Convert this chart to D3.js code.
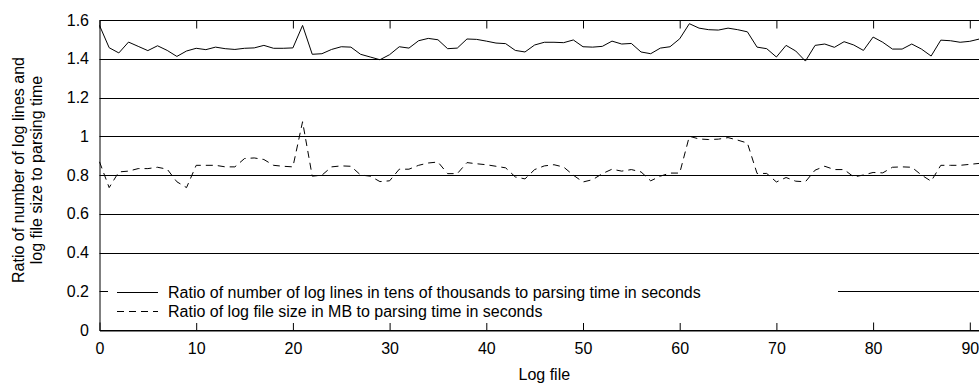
<!DOCTYPE html>
<html>
<head>
<meta charset="utf-8">
<script src="https://cdn.jsdelivr.net/npm/d3@7"></script>
<style>
  body { margin: 0; background: #fff; }
  svg { display: block; font-family: "Liberation Sans", Arial, sans-serif; }
</style>
</head>
<body>
<svg id="chart" width="979" height="383"></svg>
<script>
// values, one per log file (0..91)
const linesRatio = [
  1.572, 1.457, 1.430, 1.486, 1.464, 1.442, 1.467, 1.443, 1.412, 1.440,
  1.454, 1.447, 1.460, 1.452, 1.448, 1.454, 1.456, 1.469, 1.454, 1.454,
  1.456, 1.572, 1.423, 1.426, 1.448, 1.462, 1.460, 1.423, 1.409, 1.395,
  1.421, 1.462, 1.455, 1.493, 1.505, 1.498, 1.452, 1.455, 1.502, 1.500,
  1.491, 1.481, 1.478, 1.443, 1.435, 1.471, 1.485, 1.485, 1.483, 1.497,
  1.462, 1.460, 1.464, 1.491, 1.476, 1.479, 1.435, 1.426, 1.455, 1.462,
  1.503, 1.581, 1.558, 1.550, 1.548, 1.558, 1.550, 1.539, 1.460, 1.452,
  1.409, 1.469, 1.440, 1.388, 1.469, 1.476, 1.459, 1.488, 1.471, 1.443,
  1.512, 1.485, 1.450, 1.450, 1.476, 1.450, 1.414, 1.496, 1.493, 1.485,
  1.490, 1.502
];
const sizeRatio = [
  0.868, 0.735, 0.816, 0.820, 0.833, 0.833, 0.840, 0.830, 0.765, 0.735,
  0.850, 0.850, 0.850, 0.842, 0.842, 0.885, 0.888, 0.880, 0.850, 0.845,
  0.842, 1.075, 0.794, 0.799, 0.842, 0.847, 0.845, 0.800, 0.794, 0.766,
  0.770, 0.830, 0.830, 0.850, 0.862, 0.867, 0.807, 0.807, 0.864, 0.858,
  0.853, 0.845, 0.837, 0.790, 0.780, 0.828, 0.847, 0.853, 0.841, 0.799,
  0.764, 0.776, 0.807, 0.830, 0.820, 0.828, 0.816, 0.770, 0.794, 0.810,
  0.810, 1.000, 0.986, 0.983, 0.985, 0.993, 0.980, 0.965, 0.808, 0.808,
  0.764, 0.787, 0.768, 0.765, 0.825, 0.845, 0.828, 0.828, 0.790, 0.800,
  0.813, 0.811, 0.840, 0.842, 0.840, 0.800, 0.768, 0.850, 0.850, 0.850,
  0.855, 0.860
];
const seriesNames = [
  "Ratio of number of log lines in tens of thousands to parsing time in seconds",
  "Ratio of log file size in MB to parsing time in seconds"
];
const yTicks = [0, 0.2, 0.4, 0.6, 0.8, 1, 1.2, 1.4, 1.6];
const xTicks = [0, 10, 20, 30, 40, 50, 60, 70, 80, 90];
const yTitle = ["Ratio of number of log lines and", "log file size to parsing time"];
const xTitle = "Log file";

const svg = d3.select("#chart");
const plotLeft = 99.5, plotTop = 20, plotBottom = 330;
const unit = 9.67;   // px per log file
const fontSize = 16;

const x = d3.scaleLinear().domain([0, 92]).range([plotLeft, plotLeft + 92 * unit]);
const y = d3.scaleLinear().domain([0, 1.6]).range([plotBottom, plotTop]);
const plotRight = x(92);

// grid lines at each y tick
svg.append("g")
  .selectAll("line")
  .data(yTicks)
  .join("line")
  .attr("x1", plotLeft).attr("x2", plotRight)
  .attr("y1", d => Math.round(y(d)) + 0.5).attr("y2", d => Math.round(y(d)) + 0.5)
  .attr("stroke", "#000").attr("stroke-width", 1);

// left axis
svg.append("g")
  .attr("transform", "translate(" + plotLeft + ",0)")
  .call(d3.axisLeft(y).tickValues(yTicks).tickFormat(d3.format("~g")).tickSize(0).tickPadding(10.5))
  .call(g => g.select(".domain").attr("stroke", "#000"))
  .selectAll("text")
  .attr("font-size", fontSize).attr("fill", "#000").attr("font-family", "Liberation Sans, Arial, sans-serif");

// bottom axis, ticks pointing up into the plot
svg.append("g")
  .attr("transform", "translate(0," + (plotBottom + 0.5) + ")")
  .call(d3.axisBottom(x).tickValues(xTicks).tickSize(-8).tickPadding(12).tickSizeOuter(0))
  .call(g => g.select(".domain").attr("stroke", "#000"))
  .call(g => g.selectAll(".tick line").attr("stroke", "#000"))
  .selectAll("text")
  .attr("font-size", fontSize).attr("fill", "#000").attr("font-family", "Liberation Sans, Arial, sans-serif");

// top mirror ticks
svg.append("g")
  .attr("transform", "translate(0," + (plotTop + 0.5) + ")")
  .call(d3.axisTop(x).tickValues(xTicks).tickSize(-8).tickFormat("").tickSizeOuter(0))
  .call(g => g.select(".domain").remove())
  .call(g => g.selectAll(".tick line").attr("stroke", "#000"));

// legend box hides the grid behind it
const legendX = 108, legendY = 292;
svg.append("rect")
  .attr("x", legendX).attr("y", 278)
  .attr("width", 838 - legendX).attr("height", 45)
  .attr("fill", "#fff");

// data lines
const line = d3.line().x((d, i) => x(i)).y(d => y(d));
svg.append("path")
  .datum(linesRatio)
  .attr("d", line)
  .attr("fill", "none").attr("stroke", "#000").attr("stroke-width", 1);
svg.append("path")
  .datum(sizeRatio)
  .attr("d", line)
  .attr("fill", "none").attr("stroke", "#000").attr("stroke-width", 1)
  .attr("stroke-dasharray", "7,5");

// legend entries
const legend = svg.append("g");
seriesNames.forEach((name, i) => {
  const ly = legendY + i * 19;
  legend.append("line")
    .attr("x1", 117).attr("x2", 158)
    .attr("y1", ly + 0.5).attr("y2", ly + 0.5)
    .attr("stroke", "#000").attr("stroke-width", 1)
    .attr("stroke-dasharray", i === 1 ? "7,5" : null);
  legend.append("text")
    .attr("x", 168).attr("y", ly + 5.5)
    .attr("font-size", fontSize).attr("fill", "#000")
    .text(name);
});

// axis titles
svg.append("text")
  .attr("x", (plotLeft + plotRight) / 2).attr("y", 380)
  .attr("text-anchor", "middle").attr("font-size", fontSize)
  .text(xTitle);

yTitle.forEach((t, i) => {
  svg.append("text")
    .attr("transform", "translate(" + (24 + i * 18) + ",170) rotate(-90)")
    .attr("text-anchor", "middle").attr("font-size", fontSize)
    .text(t);
});
</script>
</body>
</html>
